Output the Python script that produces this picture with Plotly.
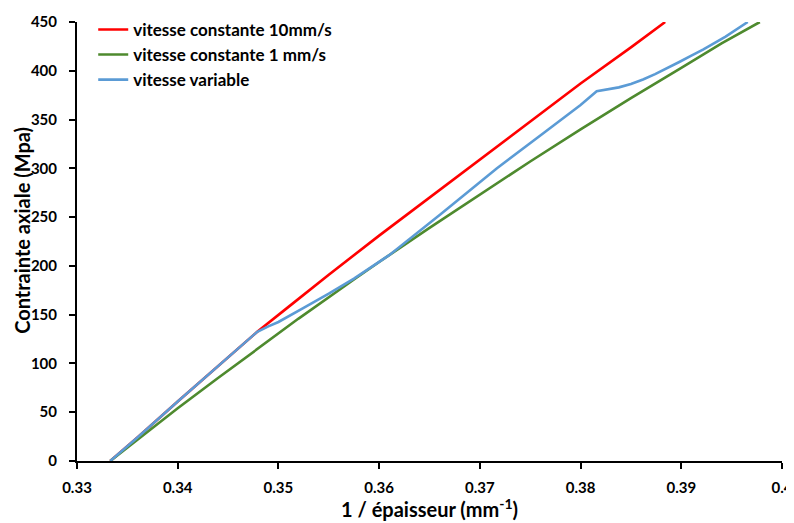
import plotly.graph_objects as go

# Data
x_red = [0.3333, 0.3360, 0.3400, 0.3440, 0.3479, 0.3510, 0.3550, 0.3600, 0.3650, 0.3700, 0.3750, 0.3800, 0.3850, 0.3884]
y_red = [0, 24, 61, 97, 132.5, 158, 191, 231, 270, 309, 348, 387, 424, 450]

x_green = [0.3333, 0.3360, 0.3400, 0.3440, 0.3479, 0.3520, 0.3575, 0.3600, 0.3650, 0.3700, 0.3750, 0.3800, 0.3850, 0.3900, 0.3940, 0.3978]
y_green = [0, 22, 54, 85, 115, 146, 186, 204, 239, 273, 307, 340, 372, 403, 428, 450]

x_blue = [0.3333, 0.3360, 0.3400, 0.3440, 0.3479, 0.3490, 0.3500, 0.3525, 0.3550, 0.3575, 0.3600, 0.3610, 0.3661, 0.3717, 0.3763, 0.3800, 0.3816,
          0.3826, 0.3838, 0.3850, 0.3862, 0.3874, 0.3886, 0.3898, 0.3910, 0.3922, 0.3944, 0.3966]
y_blue = [0, 24, 61, 97, 132.5, 138, 142.5, 157, 171.5, 187, 204, 211, 253, 300, 336, 365, 379,
          380.6, 383, 386.5, 391, 396.5, 402.5, 409, 415.5, 422, 435, 450]

names = ["vitesse constante 10mm/s", "vitesse constante 1 mm/s", "vitesse variable"]
colors = ["#FF0000", "#4E8A2E", "#5B9BD5"]

x_ticks = [0.33, 0.34, 0.35, 0.36, 0.37, 0.38, 0.39, 0.4]
x_tick_labels = ["0.33", "0.34", "0.35", "0.36", "0.37", "0.38", "0.39", "0.4"]
y_ticks = [0, 50, 100, 150, 200, 250, 300, 350, 400, 450]

x_title = "1 / épaisseur (mm<sup>-1</sup>)"
y_title = "Contrainte axiale (Mpa)"

FONT = "Lato"

fig = go.Figure()
for xs, ys, nm, c in [(x_red, y_red, names[0], colors[0]),
                      (x_green, y_green, names[1], colors[1]),
                      (x_blue, y_blue, names[2], colors[2])]:
    fig.add_trace(go.Scatter(x=xs, y=ys, mode="lines", name=nm,
                             line=dict(color=c, width=2.6)))

# The page body has an 8px default margin, so the figure is 8px smaller
fig.update_layout(
    width=786, height=515,
    margin=dict(l=69, r=12, t=14, b=62, autoexpand=False),
    paper_bgcolor="white", plot_bgcolor="white",
    font=dict(family=FONT, color="black"),
    showlegend=True,
    legend=dict(x=0.023, y=1.023, xanchor="left", yanchor="top",
                bgcolor="rgba(0,0,0,0)", itemwidth=30, tracegroupgap=0,
                font=dict(family=FONT, size=17, weight="bold", color="black")),
    annotations=[
        dict(text=x_title, xref="paper", yref="paper", x=0.5, y=-0.108,
             xanchor="center", yanchor="middle", showarrow=False,
             font=dict(family=FONT, size=20, weight="bold", color="black")),
        dict(text=y_title, xref="paper", yref="paper", x=-0.079, y=0.525,
             xanchor="center", yanchor="middle", showarrow=False, textangle=-90,
             font=dict(family=FONT, size=20, weight="bold", color="black")),
    ],
)
fig.update_xaxes(
    range=[0.33, 0.4], tickvals=x_ticks, ticktext=x_tick_labels,
    showgrid=False, zeroline=False, showline=True, linecolor="black", linewidth=2,
    ticks="outside", ticklen=6, tickwidth=2, tickcolor="black",
    ticklabelstandoff=6,
    tickfont=dict(family=FONT, size=15, weight="bold"),
)
fig.update_yaxes(
    range=[0, 450], tickvals=y_ticks,
    showgrid=False, zeroline=False, showline=True, linecolor="black", linewidth=2,
    ticks="outside", ticklen=6, tickwidth=2, tickcolor="black",
    ticklabelstandoff=9,
    tickfont=dict(family=FONT, size=15, weight="bold"),
)

fig.write_html("out.html")
